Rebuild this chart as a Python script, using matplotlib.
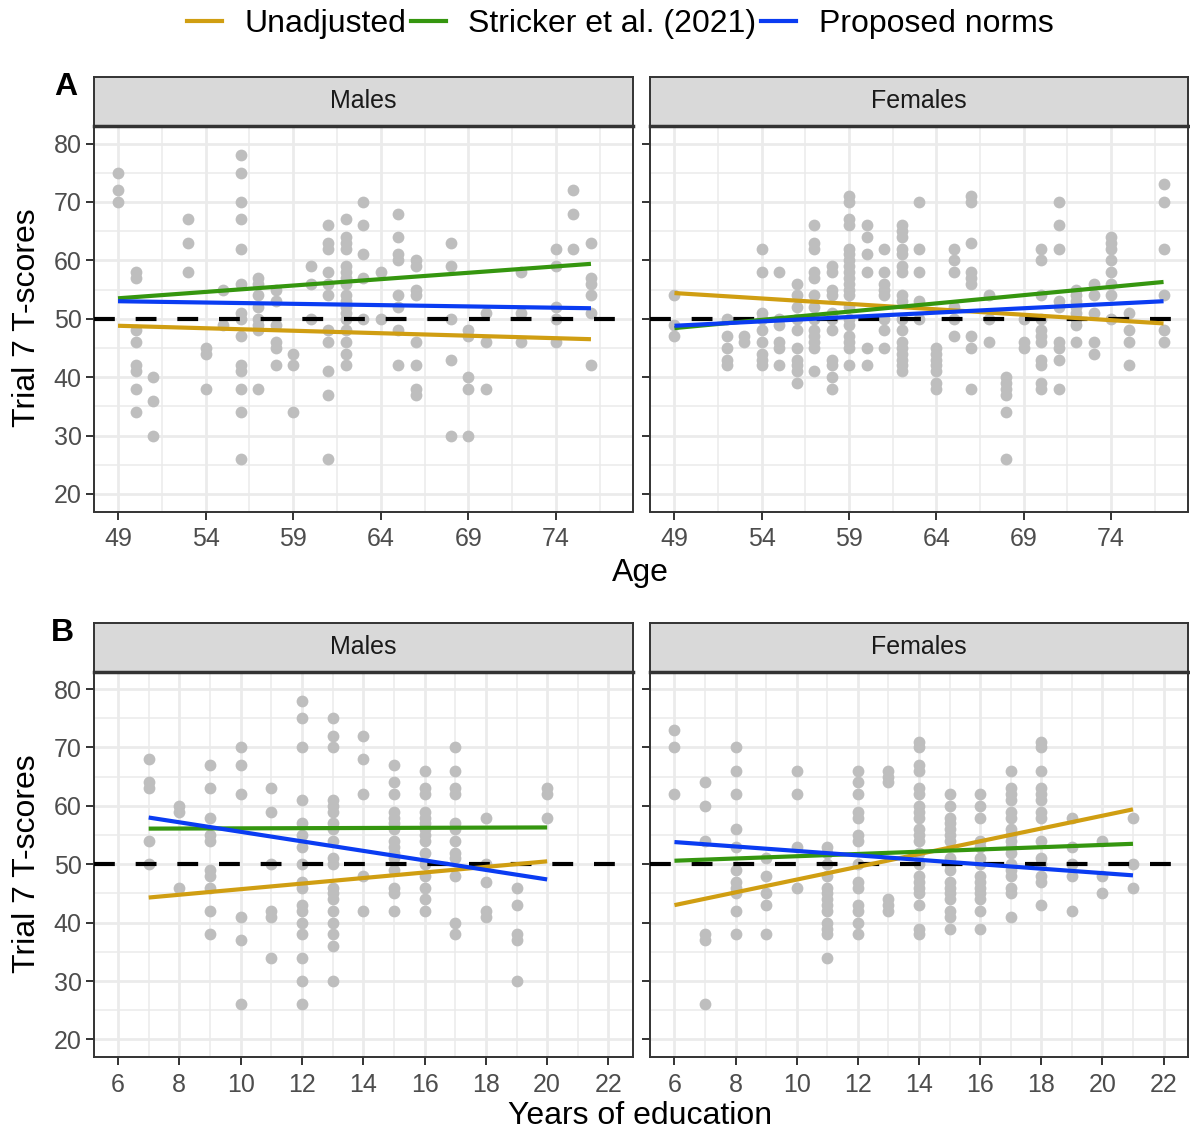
import matplotlib
matplotlib.use("Agg")
import matplotlib.pyplot as plt
from matplotlib.lines import Line2D
import numpy as np

plt.rcParams['font.family'] = ['Liberation Sans', 'DejaVu Sans']

# ---------------- data ----------------
# T-scores by age (top row)
males_age = {
    49: [75, 72, 70],
    50: [58, 57, 48, 46, 42, 41, 38, 34],
    51: [40, 36, 30],
    53: [67, 63, 58],
    54: [45, 44, 38],
    55: [55, 49],
    56: [78, 75, 70, 67, 62, 56, 51, 50, 47, 42, 41, 38, 34, 26],
    57: [57, 56, 54, 52, 50, 49, 48, 38],
    58: [55, 53, 49, 46, 45, 42],
    59: [44, 42, 34],
    60: [59, 56, 50],
    61: [66, 63, 62, 58, 56, 54, 48, 46, 41, 37, 26],
    62: [67, 64, 63, 62, 59, 58, 57, 56, 54, 53, 52, 51, 50, 48, 46, 44, 42],
    63: [70, 66, 61, 57, 50],
    64: [58, 50],
    65: [68, 64, 61, 60, 54, 52, 48, 42],
    66: [60, 59, 55, 54, 46, 42, 38, 37],
    68: [63, 59, 50, 43, 30],
    69: [48, 47, 40, 38, 30],
    70: [51, 46, 38],
    72: [58, 51, 46],
    74: [62, 59, 52, 50, 46],
    75: [72, 68, 62],
    76: [63, 57, 56, 54, 51, 42],
}
females_age = {
    49: [54, 49, 47],
    52: [50, 47, 45, 43, 42],
    53: [47, 46],
    54: [62, 58, 51, 50, 48, 46, 44, 43, 42],
    55: [58, 50, 49, 46, 45, 42],
    56: [56, 54, 52, 50, 48, 45, 43, 42, 41, 39],
    57: [66, 63, 62, 58, 57, 54, 52, 50, 48, 47, 46, 45, 41],
    58: [59, 58, 55, 54, 51, 50, 48, 43, 42, 40, 38],
    59: [71, 70, 67, 66, 62, 61, 60, 59, 58, 57, 56, 55, 54, 52, 50, 49, 47, 46, 45, 42],
    60: [66, 64, 61, 58, 45, 42],
    61: [62, 58, 56, 55, 54, 50, 48, 45],
    62: [66, 65, 64, 62, 61, 59, 58, 54, 53, 50, 48, 46, 45, 44, 43, 42, 41],
    63: [70, 62, 58, 53, 50],
    64: [45, 44, 43, 42, 41, 39, 38],
    65: [62, 60, 58, 52, 50, 47],
    66: [71, 70, 63, 58, 57, 56, 47, 45, 38],
    67: [54, 50, 46],
    68: [40, 39, 38, 37, 34, 26],
    69: [50, 46, 45],
    70: [62, 60, 54, 50, 48, 47, 46, 43, 42, 39, 38],
    71: [70, 66, 62, 53, 52, 46, 45, 43, 38],
    72: [55, 54, 53, 52, 51, 50, 49, 46],
    73: [56, 54, 51, 46, 44],
    74: [64, 63, 62, 60, 58, 56, 54, 50],
    75: [51, 48, 46, 42],
    77: [73, 70, 62, 54, 48, 46],
}
# T-scores by years of education (bottom row)
males_edu = {
    7: [68, 64, 63, 54, 50],
    8: [60, 59, 46],
    9: [67, 63, 58, 55, 54, 49, 48, 46, 42, 38],
    10: [70, 67, 62, 41, 37, 26],
    11: [63, 59, 50, 42, 41, 34],
    12: [78, 75, 70, 61, 57, 55, 53, 50, 47, 46, 43, 42, 40, 38, 34, 30, 26],
    13: [75, 72, 70, 61, 60, 59, 57, 56, 54, 51, 50, 46, 45, 44, 42, 40, 38, 36, 30],
    14: [72, 68, 62, 48, 42],
    15: [67, 64, 62, 59, 58, 57, 56, 54, 53, 52, 51, 49, 46, 45, 42],
    16: [66, 63, 62, 59, 58, 57, 56, 55, 54, 52, 50, 48, 46, 44, 42],
    17: [70, 66, 63, 62, 57, 56, 54, 52, 51, 48, 40, 38],
    18: [58, 50, 47, 42, 41],
    19: [46, 43, 38, 37, 30],
    20: [63, 62, 58],
}
females_edu = {
    6: [73, 70, 62],
    7: [64, 60, 54, 38, 37, 26],
    8: [70, 66, 62, 56, 53, 49, 47, 46, 45, 42, 38],
    9: [51, 48, 45, 43, 38],
    10: [66, 62, 53, 46],
    11: [53, 52, 50, 48, 46, 45, 44, 43, 42, 40, 39, 38, 34],
    12: [66, 64, 62, 59, 58, 55, 54, 50, 47, 46, 43, 42, 40, 38],
    13: [66, 65, 64, 44, 43, 42],
    14: [71, 70, 67, 66, 63, 62, 60, 59, 58, 56, 55, 54, 52, 50, 48, 47, 46, 45, 43, 39, 38],
    15: [62, 60, 58, 57, 56, 55, 54, 51, 50, 49, 47, 46, 45, 44, 42, 41, 39],
    16: [62, 60, 58, 54, 53, 51, 50, 48, 47, 46, 45, 44, 42, 39],
    17: [66, 63, 62, 61, 59, 58, 56, 55, 54, 53, 52, 50, 49, 48, 46, 45, 41],
    18: [71, 70, 66, 63, 62, 61, 59, 58, 54, 51, 50, 48, 47, 43],
    19: [58, 53, 50, 48, 42],
    20: [54, 48, 45],
    21: [58, 50, 46],
}

# fitted lines (endpoints)
age_x_m = [49, 76]
age_x_f = [49, 77]
unadj_age_m = [48.8, 46.5]
stricker_age_m = [53.5, 59.4]
proposed_age_m = [53.0, 51.8]
unadj_age_f = [54.4, 49.2]
stricker_age_f = [48.4, 56.3]
proposed_age_f = [48.8, 53.0]

edu_x_m = [7, 20]
edu_x_f = [6, 21]
unadj_edu_m = [44.3, 50.5]
stricker_edu_m = [56.1, 56.3]
proposed_edu_m = [58.0, 47.4]
unadj_edu_f = [43.0, 59.4]
stricker_edu_f = [50.6, 53.5]
proposed_edu_f = [53.8, 48.1]

series_names = ['Unadjusted', 'Stricker et al. (2021)', 'Proposed norms']
series_colors = ['#D09E12', '#35960F', '#0A3CF2']

age_ticks = [49, 54, 59, 64, 69, 74]
edu_ticks = [6, 8, 10, 12, 14, 16, 18, 20, 22]
y_ticks = [20, 30, 40, 50, 60, 70, 80]

# ---------------- figure ----------------
W, H = 1190, 1132
fig = plt.figure(figsize=(W / 100, H / 100), dpi=100)
fig.patch.set_facecolor('white')

dark = '#333333'


def px_axes(l, t, r, b):
    return fig.add_axes([l / W, 1 - b / H, (r - l) / W, (b - t) / H])


def expand(d):
    xs, ys = [], []
    for k, v in d.items():
        xs += [k] * len(v)
        ys += v
    return np.array(xs), np.array(ys)


def panel(l, t, r, b, strip_t, title, pts, lx, lines, xlim, xticks, minor, show_y):
    ax = px_axes(l, t, r, b)
    ax.set_xlim(*xlim)
    ax.set_ylim(17, 83)
    ax.set_xticks(xticks)
    ax.set_xticks(minor, minor=True)
    ax.set_yticks(y_ticks)
    ax.set_yticks([25, 35, 45, 55, 65, 75], minor=True)
    ax.grid(True, which='major', color='#EBEBEB', lw=2.0, zorder=0)
    ax.grid(True, which='minor', color='#EBEBEB', lw=1.1, zorder=0)
    ax.set_axisbelow(True)
    for s in ax.spines.values():
        s.set_color(dark)
        s.set_linewidth(1.4)
    ax.tick_params(which='major', length=5.5, width=1.4, color=dark,
                   labelsize=18, labelcolor='#4D4D4D', pad=3)
    ax.tick_params(axis='x', which='major', pad=6)
    ax.tick_params(which='minor', length=0)
    if not show_y:
        ax.tick_params(axis='y', labelleft=False)
    x, y = expand(pts)
    ax.scatter(x, y, s=72, color='#BEBEBE', linewidths=0, zorder=2)
    ax.axhline(50, color='black', lw=3, linestyle=(0, (5, 5)), zorder=3)
    for vals, c in zip(lines, series_colors):
        ax.plot(lx, vals, color=c, lw=3.0, solid_capstyle='butt', zorder=4)
    st = px_axes(l, strip_t, r, t)
    st.set_facecolor('#D9D9D9')
    st.set_xticks([])
    st.set_yticks([])
    for s in st.spines.values():
        s.set_color(dark)
        s.set_linewidth(1.4)
    st.spines['bottom'].set_linewidth(2.5)
    st.text(0.5, 0.5, title, ha='center', va='center', fontsize=18,
            color='#1A1A1A', transform=st.transAxes)
    return ax


age_lim = (47.6, 78.4)
edu_lim = (5.2, 22.8)
age_minor = [51.5, 56.5, 61.5, 66.5, 71.5, 76.5]
edu_minor = [7, 9, 11, 13, 15, 17, 19, 21]

panel(93.5, 126, 633, 511.5, 77, 'Males', males_age, age_x_m,
      [unadj_age_m, stricker_age_m, proposed_age_m], age_lim, age_ticks, age_minor, True)
panel(650, 126, 1188, 511.5, 77, 'Females', females_age, age_x_f,
      [unadj_age_f, stricker_age_f, proposed_age_f], age_lim, age_ticks, age_minor, False)
panel(93.5, 671.5, 633, 1057, 622.5, 'Males', males_edu, edu_x_m,
      [unadj_edu_m, stricker_edu_m, proposed_edu_m], edu_lim, edu_ticks, edu_minor, True)
panel(650, 671.5, 1188, 1057, 622.5, 'Females', females_edu, edu_x_f,
      [unadj_edu_f, stricker_edu_f, proposed_edu_f], edu_lim, edu_ticks, edu_minor, False)

# axis titles and panel tags
fig.text(640 / W, 1 - 573 / H, 'Age', ha='center', va='center', fontsize=23)
fig.text(640 / W, 1 - 1116 / H, 'Years of education', ha='center', va='center', fontsize=23)
fig.text(27 / W, 1 - 318 / H, 'Trial 7 T-scores', ha='center', va='center',
         rotation=90, fontsize=23)
fig.text(27 / W, 1 - 864 / H, 'Trial 7 T-scores', ha='center', va='center',
         rotation=90, fontsize=23)
fig.text(66 / W, 1 - 87 / H, 'A', ha='center', va='center', fontsize=23, fontweight='bold')
fig.text(62 / W, 1 - 633 / H, 'B', ha='center', va='center', fontsize=23, fontweight='bold')

handles = [Line2D([], [], color=c, lw=3.0) for c in series_colors]
fig.legend(handles, series_names, loc='center', bbox_to_anchor=(620 / W, 1 - 24 / H),
           ncol=3, frameon=False, fontsize=23, handlelength=1.1, handletextpad=0.7,
           columnspacing=0.15)

fig.savefig('out.png', dpi=100, facecolor='white')
